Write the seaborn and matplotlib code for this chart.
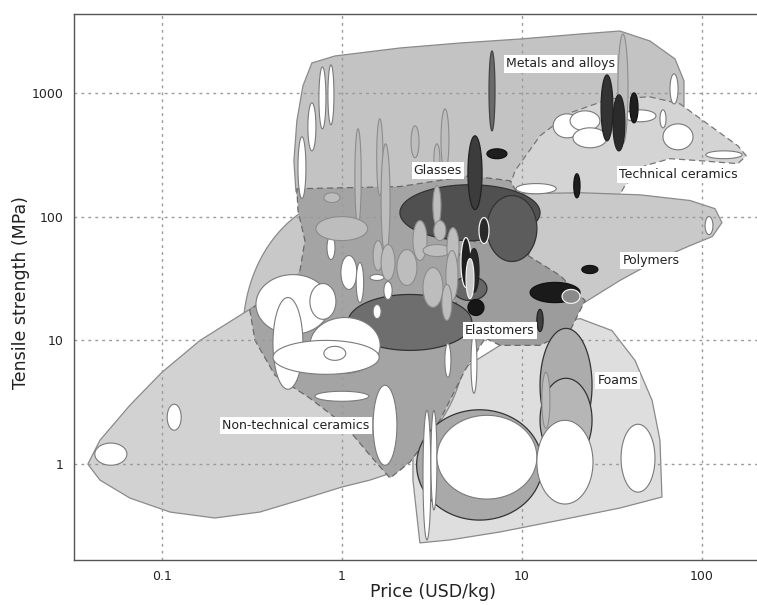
import numpy as np
import matplotlib
matplotlib.use("Agg")
import matplotlib.pyplot as plt
import seaborn as sns

# ---- family envelopes (price USD/kg, tensile strength MPa) ----
metals_price = [0.681, 0.915, 2.10, 4.53, 9.75, 21.0, 35.0, 51.4, 70.8, 79.4, 79.4, 68.1, 51.4,
                35.0, 21.0, 12.6, 7.55, 4.53, 2.71, 1.63, 0.975, 0.623, 0.555, 0.541, 0.562, 0.607]
metals_strength = [1745, 1988, 2306, 2530, 2725, 2990, 3162, 2626, 1880, 1250, 785, 542, 340,
                   195, 102, 53.2, 30.5, 21.0, 21.0, 30.5, 53.2, 102, 162, 283, 594, 1138]

tech_price = [7.55, 9.15, 12.6, 18.5, 30.8, 51.4, 75.5, 111, 158, 176, 158, 97.5, 66.4, 48.2,
              37.3, 28.9, 23.9, 19.7, 15.3, 11.1, 8.58]
tech_strength = [102, 235, 450, 690, 895, 929, 815, 542, 374, 310, 268, 283, 294, 258,
                 178, 92.9, 48.5, 27.8, 21.0, 23.1, 44.2]

poly_price = [5.14, 9.75, 21.0, 45.3, 85.8, 118, 129, 114, 85.8, 58.4, 35.0, 21.0, 14.3, 9.75,
              5.84, 4.25, 3.98]
poly_strength = [135, 153, 156, 150, 135, 116, 89.5, 69.0, 58.3, 45.8, 30.5, 19.2, 14.0, 12.0,
                 14.5, 25.3, 64]

foam_price = [2.71, 2.48, 2.48, 2.89, 4.53, 7.55, 12.6, 21.0, 31.6, 42.4, 52.8, 58.4, 59.9,
              35.0, 16.3, 7.55, 3.98]
foam_strength = [0.231, 0.743, 2.26, 3.60, 5.73, 9.12, 13.2, 15.0, 12.0, 6.9, 3.28, 1.56, 0.542,
                 0.442, 0.353, 0.283, 0.244]

nontech_price = [0.0388, 0.0453, 0.0664, 0.1, 0.163, 0.271, 0.453, 0.664, 1.04, 1.63, 2.39, 3.08,
                 3.50, 3.08, 2.10, 1.43, 1.0, 0.585, 0.35, 0.197, 0.111, 0.0664, 0.0453]
nontech_strength = [1.0, 1.56, 2.99, 5.52, 10.0, 15.9, 25.3, 36.7, 42.6, 36.7, 21.0, 10.0,
                    3.95, 1.56, 0.895, 0.743, 0.653, 0.513, 0.410, 0.367, 0.410, 0.532, 0.743]

glass_price = [0.562, 2.10, 5.14, 8.58, 10.8, 11.1, 9.15, 6.64, 4.82, 3.50, 2.39, 1.85, 1.43,
               1.04, 0.664, 0.425, 0.329, 0.308, 0.36, 0.482, 0.585, 0.623, 0.57]
glass_strength = [168, 175, 214, 195, 112, 53.2, 25.3, 12.0, 5.73, 2.26, 1.04, 0.771, 1.18,
                  2.06, 3.41, 5.22, 10.0, 17.5, 21.0, 25.3, 36.7, 64, 112]

elast_price = [5.14, 9.75, 16.3, 22.4, 18.5, 12.6, 7.55, 5.14, 4.25, 4.25]
elast_strength = [64, 53.2, 33.4, 21.0, 12.0, 9.12, 9.12, 12.0, 21.0, 44.2]

# big round ceramics region: price range, strength range
disk_range = [0.282, 4.94, 0.895, 148]

# ---- material bubbles: price low/high, strength low/high ----
mid_p_lo = [2.60, 1.08, 2.10, 6.39, 12.6, 12.6, 4.14]
mid_p_hi = [13.0, 5.27, 12.6, 12.1, 24.5, 24.5, 6.39]
mid_s_lo = [0.353, 8.3, 64, 43.4, 1.50, 1.04, 21.0]
mid_s_hi = [2.75, 23.5, 181, 148, 12.5, 4.94, 32.8]
mid_shade = ["#a9a9a9", "#6e6e6e", "#505050", "#5c5c5c", "#acacac", "#b6b6b6", "#666666"]

white_p_lo = [0.0424, 0.107, 0.333, 0.414, 0.664, 0.414, 0.664, 0.794, 0.708, 1.49, 2.82, 3.12,
              3.37, 12.1, 35.5, 14.9, 18.5, 19.2, 36.9, 60.7, 58.4, 105, 66.4, 9.26, 104,
              0.745, 0.836, 0.647, 0.570, 0.826, 0.987, 1.20, 1.43, 1.71, 1.49, 2.93, 5.21, 3.73]
white_p_hi = [0.0639, 0.128, 0.858, 0.607, 1.63, 1.61, 0.926, 1.05, 1.41, 2.02, 3.12, 3.37,
              12.1, 24.8, 54.8, 21.3, 27.1, 29.7, 55.5, 89.1, 63.1, 167, 73.6, 15.5, 115,
              0.815, 0.903, 0.717, 0.631, 0.915, 1.21, 1.32, 1.71, 1.90, 1.65, 3.24, 5.62, 4.03]
white_s_lo = [0.98, 1.88, 11.2, 4.03, 5.42, 5.32, 14.8, 6.9, 3.22, 0.98, 0.244, 0.426,
              0.522, 0.476, 0.594, 433, 494, 360, 584, 347, 522, 294, 815, 153, 71.6,
              512, 552, 340, 140, 45.0, 25.8, 20.2, 30.5, 21.4, 15.0, 20.2, 3.74, 5.03]
white_s_hi = [1.48, 3.05, 34.0, 22.2, 15.3, 10.0, 28.8, 8.95, 3.88, 4.34, 2.72, 2.72,
              2.48, 2.26, 2.10, 677, 716, 522, 729, 562, 729, 340, 1423, 185, 100,
              1620, 1683, 830, 442, 70.3, 48.5, 42.6, 34.1, 29.9, 19.5, 24.4, 11.4, 9.46]

light_p_lo = [1.18, 1.56, 1.65, 2.42, 3.24, 3.55, 3.20, 0.717, 0.794, 1.49, 1.65, 2.02, 2.48,
              2.82, 3.24, 3.83, 3.78, 2.82, 3.59, 34.1, 12.9]
light_p_hi = [1.28, 1.69, 1.85, 2.68, 3.50, 3.93, 3.55, 1.39, 0.975, 1.69, 1.97, 2.61, 2.97,
              4.03, 3.78, 4.47, 4.41, 3.64, 4.08, 38.8, 14.3]
light_s_lo = [86.2, 148, 48.5, 299, 214, 235, 84.6, 64, 130, 36.7, 30.5, 27.8, 44.2,
              47.6, 64, 38.8, 21.0, 18.5, 14.5, 388, 1.95]
light_s_hi = [512, 617, 388, 542, 388, 743, 178, 100, 156, 64, 59.5, 54.2, 92.9,
              59.5, 92.9, 81.5, 53.2, 38.8, 28.3, 2990, 5.52]

dark_p_lo = [6.56, 5.01, 6.39, 27.5, 32.0, 39.8, 19.4, 21.5, 5.77, 4.58, 5.08, 5.01, 11.1, 12.1]
dark_p_hi = [7.08, 6.0, 8.25, 32.0, 37.3, 44.1, 21.0, 26.4, 6.56, 5.21, 5.77, 6.15, 21.0, 13.1]
dark_s_lo = [494, 114, 294, 410, 340, 573, 142, 34.7, 60.6, 26.8, 24.4, 15.9, 20.2, 11.8]
dark_s_hi = [2180, 450, 353, 1396, 964, 1000, 222, 40.3, 98.2, 67.7, 55.2, 21.4, 29.4, 17.8]
dark_shade = ["#6a6a6a", "#3c3c3c", "#1e1e1e", "#333333", "#2b2b2b", "#1e1e1e", "#1e1e1e",
              "#1a1a1a", "#2a2a2a", "#1e1e1e", "#262626", "#161616", "#1a1a1a", "#404040"]
dark_edge = ["#444444", "#222222", "#111111", "#222222", "#222222", "#111111", "#111111",
             "#111111", "#f2f2f2", "#f2f2f2", "#222222", "#111111", "#111111", "#222222"]

top_p_lo = [4.89, 16.7]
top_p_hi = [5.41, 21.0]
top_s_lo = [21.8, 19.9]
top_s_hi = [45.8, 25.8]
top_shade = ["#c8c8c8", "#8a8a8a"]


def bubble(ax, plo, phi, slo, shi, face, edge, lw=0.8, z=2):
    t = np.linspace(0, 2 * np.pi, 120)
    cx = (np.log10(plo) + np.log10(phi)) / 2
    rx = (np.log10(phi) - np.log10(plo)) / 2
    cy = (np.log10(slo) + np.log10(shi)) / 2
    ry = (np.log10(shi) - np.log10(slo)) / 2
    ax.fill(10 ** (cx + rx * np.cos(t)), 10 ** (cy + ry * np.sin(t)),
            facecolor=face, edgecolor=edge, lw=lw, zorder=z)


sns.set_style("white")
plt.rcParams["font.family"] = ["DejaVu Sans"]

fig = plt.figure(figsize=(7.57, 6.05), dpi=100)
ax = fig.add_axes([74 / 757, 45 / 605, 683 / 757, 546 / 605])
ax.set_xscale("log")
ax.set_yscale("log")
ax.set_xlim(0.0325, 202)
ax.set_ylim(0.168, 4340)

# envelopes
ax.fill(metals_price, metals_strength, facecolor="#c3c3c3", edgecolor="#8a8a8a", lw=0.9, zorder=1)
ax.fill(tech_price, tech_strength, facecolor="#d4d4d4", edgecolor="#777777", lw=0.9,
        ls=(0, (5, 3)), zorder=1)
ax.fill(poly_price, poly_strength, facecolor="#c9c9c9", edgecolor="#8a8a8a", lw=0.9, zorder=1)
ax.fill(foam_price, foam_strength, facecolor="#dedede", edgecolor="#8a8a8a", lw=0.9, zorder=1)
bubble(ax, *disk_range, face="#c8c8c8", edge="#8a8a8a", lw=0.9, z=1)
ax.fill(nontech_price, nontech_strength, facecolor="#d2d2d2", edgecolor="#8a8a8a", lw=0.9, zorder=1)
ax.fill(glass_price, glass_strength, facecolor="#a4a4a4", edgecolor="#6a6a6a", lw=0.9,
        ls=(0, (5, 3)), zorder=1)
ax.fill(elast_price, elast_strength, facecolor="#9c9c9c", edgecolor="#6a6a6a", lw=0.9,
        ls=(0, (5, 3)), zorder=1)

# bubbles
for i in range(len(mid_p_lo)):
    bubble(ax, mid_p_lo[i], mid_p_hi[i], mid_s_lo[i], mid_s_hi[i], mid_shade[i], "#333333", 0.9, 2)
for i in range(len(white_p_lo)):
    bubble(ax, white_p_lo[i], white_p_hi[i], white_s_lo[i], white_s_hi[i], "white", "#7a7a7a", 0.8, 2.1)
for i in range(len(light_p_lo)):
    bubble(ax, light_p_lo[i], light_p_hi[i], light_s_lo[i], light_s_hi[i], "#bdbdbd", "#8c8c8c", 0.8, 2.2)
for i in range(len(dark_p_lo)):
    bubble(ax, dark_p_lo[i], dark_p_hi[i], dark_s_lo[i], dark_s_hi[i], dark_shade[i], dark_edge[i], 0.9, 2.3)
for i in range(len(top_p_lo)):
    bubble(ax, top_p_lo[i], top_p_hi[i], top_s_lo[i], top_s_hi[i], top_shade[i], "#eeeeee", 0.9, 2.4)

# family labels
box = dict(facecolor="white", edgecolor="none", pad=1.5)
labels = [("Metals and alloys", 16.3, 1714), ("Glasses", 3.41, 235),
          ("Technical ceramics", 73.6, 218), ("Polymers", 52.1, 44.2),
          ("Elastomers", 7.55, 12.0), ("Foams", 34.1, 4.76),
          ("Non-technical ceramics", 0.555, 2.06)]
for txt, px, sy in labels:
    ax.text(px, sy, txt, fontsize=9, ha="center", va="center", color="#222222",
            bbox=box, zorder=5)

# grid and axes
ax.set_axisbelow("line")
ax.grid(True, which="major", color="#9a9a9a", lw=1.0, ls=(0, (2, 3)))
ax.set_xticks([0.1, 1, 10, 100])
ax.set_xticklabels(["0.1", "1", "10", "100"])
ax.set_yticks([1, 10, 100, 1000])
ax.set_yticklabels(["1", "10", "100", "1000"])
ax.tick_params(which="major", length=4, width=0.8, color="#555555", labelsize=9, labelcolor="#222222")
ax.tick_params(which="minor", length=2, width=0.6, color="#777777")
for s in ["left", "bottom", "top"]:
    ax.spines[s].set_color("#555555")
    ax.spines[s].set_linewidth(1.0)
ax.spines["right"].set_visible(False)

ax.set_xlabel("Price (USD/kg)", fontsize=12.5, color="#222222")
ax.xaxis.set_label_coords(0.525, -0.043)
ax.set_ylabel("Tensile strength (MPa)", fontsize=12.5, color="#222222")
ax.yaxis.set_label_coords(-0.064, 0.49)

fig.savefig("out.png", dpi=100)
